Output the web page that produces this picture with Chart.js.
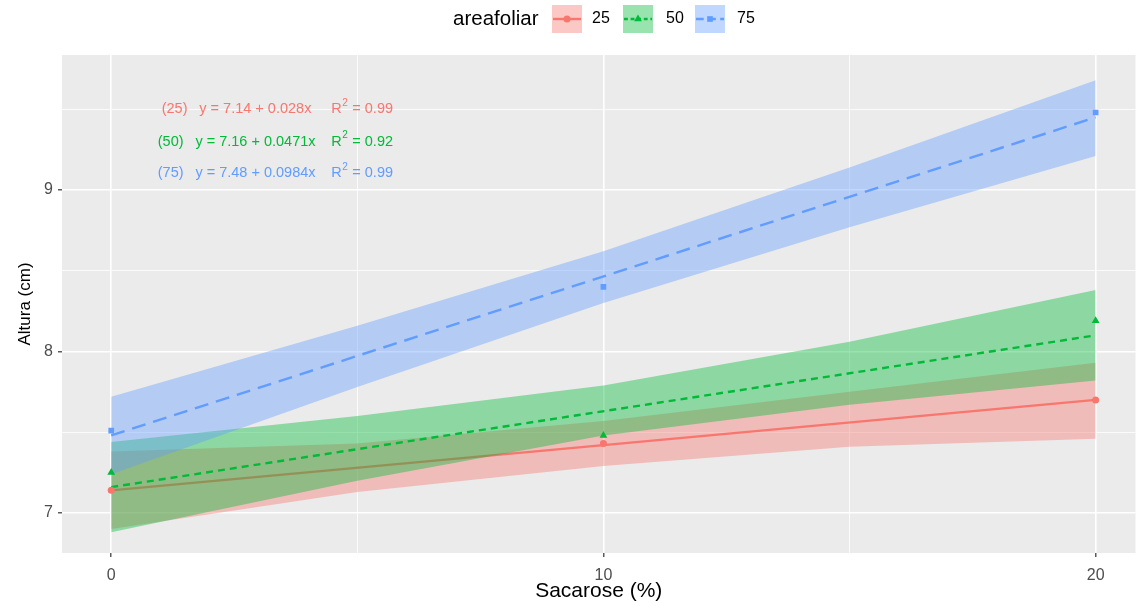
<!DOCTYPE html>
<html>
<head>
<meta charset="utf-8">
<title>Altura x Sacarose</title>
<script src="https://cdn.jsdelivr.net/npm/chart.js@4.4.1/dist/chart.umd.min.js"></script>
<style>
  body { margin: 0; background: #ffffff; }
  canvas { display: block; }
</style>
</head>
<body>
<canvas id="grafico" width="1140" height="603"></canvas>
<script>
// datos

const grupos = ["25", "50", "75"];
const colores = ["#F8766D", "#00BA38", "#619CFF"];

// medias observadas
const xPuntos = [0, 10, 20];
const altura25 = [7.14, 7.43, 7.70];
const altura50 = [7.25, 7.48, 8.19];
const altura75 = [7.51, 8.40, 9.48];

// rectas ajustadas
const xAjuste = [0, 20];
const ajuste25 = [7.14, 7.70];
const ajuste50 = [7.16, 8.10];
const ajuste75 = [7.48, 9.45];

// bandas de confianza
const xBanda = [0, 5, 10, 15, 20];
const inf25 = [6.90, 7.13, 7.29, 7.41, 7.46];
const sup25 = [7.38, 7.43, 7.57, 7.75, 7.93];
const inf50 = [6.88, 7.20, 7.48, 7.67, 7.82];
const sup50 = [7.44, 7.60, 7.79, 8.06, 8.38];
const inf75 = [7.24, 7.78, 8.30, 8.77, 9.21];
const sup75 = [7.72, 8.16, 8.62, 9.14, 9.68];

// etiquetas de ejes
const ticksX = [0, 10, 20];
const ticksY = [7, 8, 9];

// ecuaciones
const etiquetasEq = ["(25)", "(50)", "(75)"];
const ecuaciones = ["y = 7.14 + 0.028x", "y = 7.16 + 0.0471x", "y = 7.48 + 0.0984x"];
const r2 = ["0.99", "0.92", "0.99"];

const fuente = "'Liberation Sans', Arial, sans-serif";

function pares(xs, ys) {
    return xs.map((x, i) => ({ x: x, y: ys[i] }));
}

function alfa(hex, a) {
    const n = parseInt(hex.slice(1), 16);
    return "rgba(" + (n >> 16) + "," + ((n >> 8) & 255) + "," + (n & 255) + "," + a + ")";
}

// lineas menores en los puntos medios
function menores(ticks, min, max) {
    const paso = ticks[1] - ticks[0];
    const res = [];
    for (let v = ticks[0] - paso / 2; v < max; v += paso) {
        if (v > min) res.push(v);
    }
    return res;
}

const X_MIN = -1.0, X_MAX = 20.81;
const Y_MIN = 6.752, Y_MAX = 9.836;

const tiposLinea = [[], [7, 5], [14, 8]];
const formas = ["circle", "triangle", "rect"];
const radios = [3.5, 4.5, 4];

const medias = [altura25, altura50, altura75];
const ajustes = [ajuste25, ajuste50, ajuste75];
const inferiores = [inf25, inf50, inf75];
const superiores = [sup25, sup50, sup75];

// armar los datasets en el orden en que se pintan
const datasets = [];
let capa = 100;
grupos.forEach((g, i) => {
    const idxInf = datasets.length;
    datasets.push({
        type: "line",
        label: "inf" + g,
        data: pares(xBanda, inferiores[i]),
        borderWidth: 0,
        pointRadius: 0,
        fill: false,
        order: capa--,
    });
    datasets.push({
        type: "line",
        label: "sup" + g,
        data: pares(xBanda, superiores[i]),
        borderWidth: 0,
        pointRadius: 0,
        backgroundColor: alfa(colores[i], 0.4),
        fill: idxInf,
        order: capa--,
    });
    datasets.push({
        type: "line",
        label: g,
        data: pares(xAjuste, ajustes[i]),
        borderColor: colores[i],
        borderWidth: 2.4,
        borderDash: tiposLinea[i],
        pointRadius: 0,
        fill: false,
        order: capa--,
    });
});
grupos.forEach((g, i) => {
    datasets.push({
        type: "scatter",
        label: "obs" + g,
        data: pares(xPuntos, medias[i]),
        pointStyle: formas[i],
        pointRadius: radios[i],
        backgroundColor: colores[i],
        borderColor: colores[i],
        borderWidth: 0,
        showLine: false,
        order: capa--,
    });
});

// fondo gris del panel
const fondoPanel = {
    id: "fondoPanel",
    beforeDraw(chart) {
        const { ctx, chartArea: a } = chart;
        ctx.save();
        ctx.fillStyle = "#EBEBEB";
        ctx.fillRect(a.left, a.top, a.width, a.height);
        ctx.restore();
    },
};

// texto de las ecuaciones
const textoEcuaciones = {
    id: "textoEcuaciones",
    afterDatasetsDraw(chart) {
        const { ctx, scales } = chart;
        const filas = [9.50, 9.30, 9.105];
        const finEtiqueta = [1.55, 1.47, 1.47];
        const inicioEq = [1.79, 1.71, 1.71];
        ctx.save();
        ctx.textBaseline = "middle";
        grupos.forEach((g, i) => {
            const y = scales.y.getPixelForValue(filas[i]);
            ctx.fillStyle = colores[i];
            ctx.font = "14.5px " + fuente;
            ctx.textAlign = "right";
            ctx.fillText(etiquetasEq[i], scales.x.getPixelForValue(finEtiqueta[i]), y);
            ctx.textAlign = "left";
            ctx.fillText(ecuaciones[i], scales.x.getPixelForValue(inicioEq[i]), y);
            let x = scales.x.getPixelForValue(4.47);
            ctx.fillText("R", x, y);
            x += ctx.measureText("R").width;
            ctx.font = "10px " + fuente;
            ctx.fillText("2", x + 0.5, y - 6);
            x += ctx.measureText("2").width + 1;
            ctx.font = "14.5px " + fuente;
            ctx.fillText(" = " + r2[i], x, y);
        });
        ctx.restore();
    },
};

// leyenda superior
const leyenda = {
    id: "leyenda",
    afterDraw(chart) {
        const { ctx } = chart;
        const cajas = [552, 623, 695];
        const textos = [592, 666, 737];
        ctx.save();
        ctx.textBaseline = "middle";
        ctx.fillStyle = "#000000";
        ctx.font = "20.5px " + fuente;
        ctx.fillText("areafoliar", 453, 19);
        grupos.forEach((g, i) => {
            const x0 = cajas[i], y0 = 5, w = 30, h = 28;
            ctx.fillStyle = alfa(colores[i], 0.4);
            ctx.fillRect(x0, y0, w, h);
            ctx.strokeStyle = colores[i];
            ctx.lineWidth = 2.4;
            ctx.setLineDash(tiposLinea[i].map(v => v * 0.55));
            ctx.beginPath();
            ctx.moveTo(x0 + 1, y0 + h / 2);
            ctx.lineTo(x0 + w - 1, y0 + h / 2);
            ctx.stroke();
            ctx.setLineDash([]);
            ctx.fillStyle = colores[i];
            Chart.helpers.drawPoint(ctx, { pointStyle: formas[i], radius: radios[i], rotation: 0, borderWidth: 0 }, x0 + w / 2, y0 + h / 2);
            ctx.fillStyle = "#000000";
            ctx.font = "16px " + fuente;
            ctx.fillText(g, textos[i], 19);
        });
        ctx.restore();
    },
};

const menoresX = menores(ticksX, X_MIN, X_MAX);
const menoresY = menores(ticksY, Y_MIN, Y_MAX);

const grafico = new Chart(document.getElementById("grafico"), {
    type: "scatter",
    data: { datasets: datasets },
    options: {
        responsive: false,
        animation: false,
        devicePixelRatio: 1,
        layout: { padding: { top: 55, left: 0, right: 0, bottom: 0 } },
        plugins: {
            legend: { display: false },
            tooltip: { enabled: false },
        },
        scales: {
            x: {
                type: "linear",
                min: X_MIN,
                max: X_MAX,
                afterBuildTicks: (scale) => {
                    scale.ticks = ticksX.concat(menoresX).sort((a, b) => a - b).map(v => ({ value: v }));
                },
                afterFit: (scale) => {
                    scale.height = 50;
                    scale.paddingLeft = 0;
                    scale.paddingRight = 0;
                },
                border: { display: false },
                grid: {
                    color: "#FFFFFF",
                    lineWidth: (c) => (c.tick && ticksX.includes(c.tick.value) ? 1.6 : 0.8),
                    tickLength: 4,
                    tickColor: (c) => (c.tick && ticksX.includes(c.tick.value) ? "#333333" : "rgba(0,0,0,0)"),
                    tickWidth: 1.2,
                },
                ticks: {
                    autoSkip: false,
                    maxRotation: 0,
                    padding: 9,
                    color: "#4D4D4D",
                    font: { family: fuente, size: 16 },
                    callback: (v) => (ticksX.includes(v) ? String(v) : ""),
                },
                title: {
                    display: true,
                    text: "Sacarose (%)",
                    color: "#000000",
                    font: { family: fuente, size: 21 },
                    padding: { top: 0, bottom: -1 },
                },
            },
            y: {
                type: "linear",
                min: Y_MIN,
                max: Y_MAX,
                afterBuildTicks: (scale) => {
                    scale.ticks = ticksY.concat(menoresY).sort((a, b) => a - b).map(v => ({ value: v }));
                },
                afterFit: (scale) => {
                    scale.width = 62;
                    scale.paddingTop = 0;
                    scale.paddingBottom = 0;
                },
                border: { display: false },
                grid: {
                    color: "#FFFFFF",
                    lineWidth: (c) => (c.tick && ticksY.includes(c.tick.value) ? 1.6 : 0.8),
                    tickLength: 4,
                    tickColor: (c) => (c.tick && ticksY.includes(c.tick.value) ? "#333333" : "rgba(0,0,0,0)"),
                    tickWidth: 1.2,
                },
                ticks: {
                    autoSkip: false,
                    padding: 5,
                    color: "#4D4D4D",
                    font: { family: fuente, size: 16 },
                    callback: (v) => (ticksY.includes(v) ? String(v) : ""),
                },
                title: {
                    display: true,
                    text: "Altura (cm)",
                    color: "#000000",
                    font: { family: fuente, size: 17 },
                    padding: { top: 15, bottom: 0 },
                },
            },
        },
    },
    plugins: [fondoPanel, textoEcuaciones, leyenda],
});
</script>
</body>
</html>
